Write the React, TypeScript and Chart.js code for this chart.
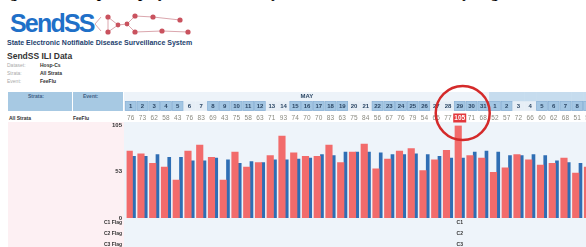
import React, { useEffect, useRef } from "react";
import { Chart, registerables } from "chart.js";

Chart.register(...registerables);

// ---- data ----
const dayLabels = [
  "1", "2", "3", "4", "5", "6", "7", "8", "9", "10",
  "11", "12", "13", "14", "15", "16", "17", "18", "19", "20",
  "21", "22", "23", "24", "25", "26", "27", "28", "29", "30",
  "31", "1", "2", "3", "4", "5", "6", "7", "8", "9",
];
const monthOfDay = [
  "MAY", "MAY", "MAY", "MAY", "MAY", "MAY", "MAY", "MAY", "MAY", "MAY",
  "MAY", "MAY", "MAY", "MAY", "MAY", "MAY", "MAY", "MAY", "MAY", "MAY",
  "MAY", "MAY", "MAY", "MAY", "MAY", "MAY", "MAY", "MAY", "MAY", "MAY",
  "MAY", "JUN", "JUN", "JUN", "JUN", "JUN", "JUN", "JUN", "JUN", "JUN",
];
const workdays = [
  1, 1, 1, 1, 1, 0, 0, 1, 1, 1, 1, 1, 0, 0, 1, 1, 1, 1, 1, 0,
  0, 1, 1, 1, 1, 1, 0, 0, 1, 1, 1, 1, 1, 0, 0, 1, 1, 1, 1, 1,
];
const iliCounts = [
  76, 73, 62, 58, 43, 76, 83, 69, 43, 75,
  58, 63, 71, 93, 74, 70, 70, 83, 63, 75,
  84, 56, 67, 76, 79, 54, 66, 77, 105, 71,
  68, 52, 57, 72, 66, 60, 62, 68, 51, 58,
];
const expectedCounts = [
  70, 70, 72, 69, 69, 65, 65, 68, 66, 62,
  64, 63, 66, 66, 67, 68, 72, 71, 75, 75,
  75, 74, 72, 72, 73, 72, 70, 68, 68, 75,
  76, 75, 71, 71, 72, 71, 65, 63, 62, 62,
];
const yTickValues = [0, 53, 105];
const flagRowLabels = ["C1 Flag", "C2 Flag", "C3 Flag"];
const flagCodes = ["C1", "C2", "C3"];
const flaggedDayIndex = 28;

const FONT = '"Liberation Sans", Arial, sans-serif';

const tablePlugin = {
  id: "sendssTable",
  beforeDraw(chart: any) {
    const ctx = chart.ctx;
    const xs = chart.scales.x;
    const colW = xs.getPixelForValue(1) - xs.getPixelForValue(0);
    const cx = (i: number) => xs.getPixelForValue(i) - 1.75;
    ctx.save();
    for (let i = 0; i < dayLabels.length; i++) {
      const c = cx(i);
      const left = c - colW / 2;
      ctx.fillStyle = monthOfDay[i] === "MAY" ? "#edf3f9" : "#c6dcee";
      ctx.fillRect(left, 12, colW + 0.5, 9.5);
      if (workdays[i]) {
        ctx.fillStyle = "#a3c6e3";
        ctx.fillRect(left + 0.5, 21.5, colW - 1, 9);
        ctx.strokeStyle = "#8ab2d6";
        ctx.lineWidth = 0.8;
        ctx.strokeRect(left + 0.5, 21.5, colW - 1, 9);
      } else {
        ctx.fillStyle = "#e6eef6";
        ctx.fillRect(left, 21.5, colW, 9);
      }
      ctx.fillStyle = "#2b4664";
      ctx.font = "bold 6px " + FONT;
      ctx.textAlign = "center";
      ctx.textBaseline = "middle";
      ctx.fillText(dayLabels[i], c, 26);
      ctx.fillStyle = "#8a8a80";
      ctx.font = "6.5px " + FONT;
      ctx.fillText(String(iliCounts[i]), c, 38);
    }
    const mayIdx = monthOfDay.map((m, i) => (m === "MAY" ? i : -1)).filter((i) => i >= 0);
    const mx = (cx(mayIdx[0]) + cx(mayIdx[mayIdx.length - 1])) / 2;
    ctx.fillStyle = "#2b4664";
    ctx.font = "bold 6px " + FONT;
    ctx.fillText("MAY", mx, 16.5);
    ctx.restore();
  },
  afterDraw(chart: any) {
    const ctx = chart.ctx;
    const xs = chart.scales.x;
    const cx = (i: number) => xs.getPixelForValue(i) - 1.75;
    ctx.save();
    const maxV = Math.max(...iliCounts);
    const mi = iliCounts.indexOf(maxV);
    const mc = cx(mi);
    ctx.fillStyle = "#e3383c";
    ctx.fillRect(mc - 6.5, 33.5, 13, 9);
    ctx.fillStyle = "#ffffff";
    ctx.font = "bold 6.5px " + FONT;
    ctx.textAlign = "center";
    ctx.textBaseline = "middle";
    ctx.fillText(String(maxV), mc, 38);
    ctx.beginPath();
    ctx.strokeStyle = "#d42a2a";
    ctx.lineWidth = 2.5;
    ctx.arc(mc + 3, 33, 27, 0, Math.PI * 2);
    ctx.stroke();
    const left = chart.chartArea.left;
    ctx.fillStyle = "#333333";
    ctx.font = "bold 5px " + FONT;
    flagRowLabels.forEach((lab, k) => {
      ctx.textAlign = "right";
      ctx.fillText(lab, left - 4.6, 143 + 11 * k);
      ctx.textAlign = "center";
      ctx.fillText(flagCodes[k], cx(flaggedDayIndex), 143 + 11 * k);
    });
    ctx.restore();
  },
};

export default function App() {
  const ref = useRef<HTMLCanvasElement | null>(null);
  useEffect(() => {
    if (!ref.current) return;
    const chart = new Chart(ref.current, {
      type: "bar",
      data: {
        labels: dayLabels,
        datasets: [
          { label: "ILI", data: iliCounts, backgroundColor: "#f26b6b", barThickness: 6.5 } as any,
          { label: "Expected", data: expectedCounts, backgroundColor: "#2f6eb4", barThickness: 3 } as any,
        ],
      },
      options: {
        animation: false,
        responsive: false,
        layout: { padding: { top: 45.6, bottom: 29, left: 0, right: 3.4 } },
        plugins: { legend: { display: false }, tooltip: { enabled: false } },
        scales: {
          x: { display: false, offset: true, grid: { display: false } },
          y: {
            min: 0,
            max: 105,
            afterBuildTicks: (s: any) => {
              s.ticks = yTickValues.map((v) => ({ value: v }));
            },
            afterFit: (s: any) => {
              s.width = 31.6;
            },
            grid: { display: false, drawTicks: false },
            border: { display: false },
            ticks: {
              padding: 4.6,
              color: "#333333",
              font: { family: FONT, size: 6, weight: "bold" },
              autoSkip: false,
            },
          },
        },
      } as any,
      plugins: [tablePlugin],
    });
    return () => chart.destroy();
  }, []);

  const abs = (l: number, t: number, extra: any = {}) => ({
    position: "absolute" as const,
    left: l,
    top: t,
    whiteSpace: "nowrap" as const,
    ...extra,
  });

  return (
    <div
      style={{
        position: "fixed",
        left: 0,
        top: 0,
        width: 586,
        height: 247,
        overflow: "hidden",
        background: "#ffffff",
        fontFamily: FONT,
      }}
    >
      <div
        style={abs(-3, -15, {
          fontFamily: '"Liberation Serif", "Times New Roman", serif',
          fontWeight: "bold",
          fontSize: 15,
          lineHeight: "17px",
          color: "#000",
        })}
      >
        Figure 3: Example display of SendSS ILI Syndromic Surveillance Data by Region
      </div>
      <div
        style={abs(10, 10.7, {
          fontSize: 25,
          lineHeight: "25px",
          fontWeight: "bold",
          letterSpacing: -1.8,
          color: "#1f70c8",
        })}
      >
        SendSS
      </div>
      <svg style={abs(93, 8)} width={105} height={32} viewBox="93 8 105 32">
        <g stroke="#dba7ae" strokeWidth={1} fill="none">
          <polyline points="101,17 95,24 101,31" />
          <line x1={108} y1={17} x2={108} y2={32} />
          <line x1={108} y1={17} x2={118} y2={25} />
          <line x1={108} y1={32} x2={118} y2={25} />
          <line x1={118} y1={25} x2={127} y2={24} />
          <line x1={127} y1={24} x2={135} y2={16} />
          <line x1={127} y1={24} x2={135} y2={32} />
          <line x1={135} y1={16} x2={153} y2={17} />
          <line x1={153} y1={17} x2={180} y2={20} />
          <line x1={135} y1={32} x2={162} y2={31} />
          <line x1={162} y1={31} x2={188} y2={32} />
        </g>
        <g fill="#c9525e">
          <circle cx={108} cy={17} r={2.6} />
          <circle cx={108} cy={32} r={2.6} />
          <circle cx={118} cy={25} r={2.4} />
          <circle cx={127} cy={24} r={2.4} />
          <circle cx={135} cy={16} r={2.6} />
          <circle cx={135} cy={32} r={2.6} />
          <circle cx={153} cy={17} r={2.6} />
          <circle cx={162} cy={31} r={2.6} />
          <circle cx={180} cy={20} r={2.6} />
          <circle cx={188} cy={32} r={2.6} />
        </g>
      </svg>
      <div style={abs(7, 38.5, { fontSize: 7, lineHeight: "7px", fontWeight: "bold", color: "#1d3f6e" })}>
        State Electronic Notifiable Disease Surveillance System
      </div>
      <div style={abs(7, 51.8, { fontSize: 8.5, lineHeight: "8.5px", fontWeight: "bold", color: "#333" })}>
        SendSS ILI Data
      </div>
      {[
        ["Dataset:", "Hosp-Cs", 65.5],
        ["Strata:", "All Strata", 73.5],
        ["Event:", "FeeFlu", 81.5],
      ].map(([a, b, y]) => (
        <React.Fragment key={a as string}>
          <div style={abs(7, (y as number) - 2.5, { fontSize: 5, lineHeight: "5px", color: "#aaa" })}>{a}</div>
          <div style={abs(40, (y as number) - 2.5, { fontSize: 5, lineHeight: "5px", fontWeight: "bold", color: "#333" })}>{b}</div>
        </React.Fragment>
      ))}
      <div style={abs(8, 92, { width: 64, height: 19, background: "#a7c9e3" })} />
      <div style={abs(73, 92, { width: 50, height: 19, background: "#a7c9e3" })} />
      <div style={abs(124, 92, { width: 470, height: 19, background: "#edf3f9" })} />
      <div style={abs(28, 94, { fontSize: 5, lineHeight: "5px", fontWeight: "bold", color: "#3f5f85" })}>Strata:</div>
      <div style={abs(83, 94, { fontSize: 5, lineHeight: "5px", fontWeight: "bold", color: "#3f5f85" })}>Event:</div>
      <div style={abs(9, 115.5, { fontSize: 5, lineHeight: "5px", fontWeight: "bold", color: "#333" })}>All Strata</div>
      <div style={abs(73, 115.5, { fontSize: 5, lineHeight: "5px", fontWeight: "bold", color: "#333" })}>FeeFlu</div>
      <div style={abs(8, 122, { width: 116, height: 125, background: "#fdf0f3" })} />
      <div style={abs(124, 122, { width: 470, height: 125, background: "#eef4fa" })} />
      <canvas ref={ref} width={505} height={167} style={abs(95, 80, { display: "block" })} />
    </div>
  );
}
